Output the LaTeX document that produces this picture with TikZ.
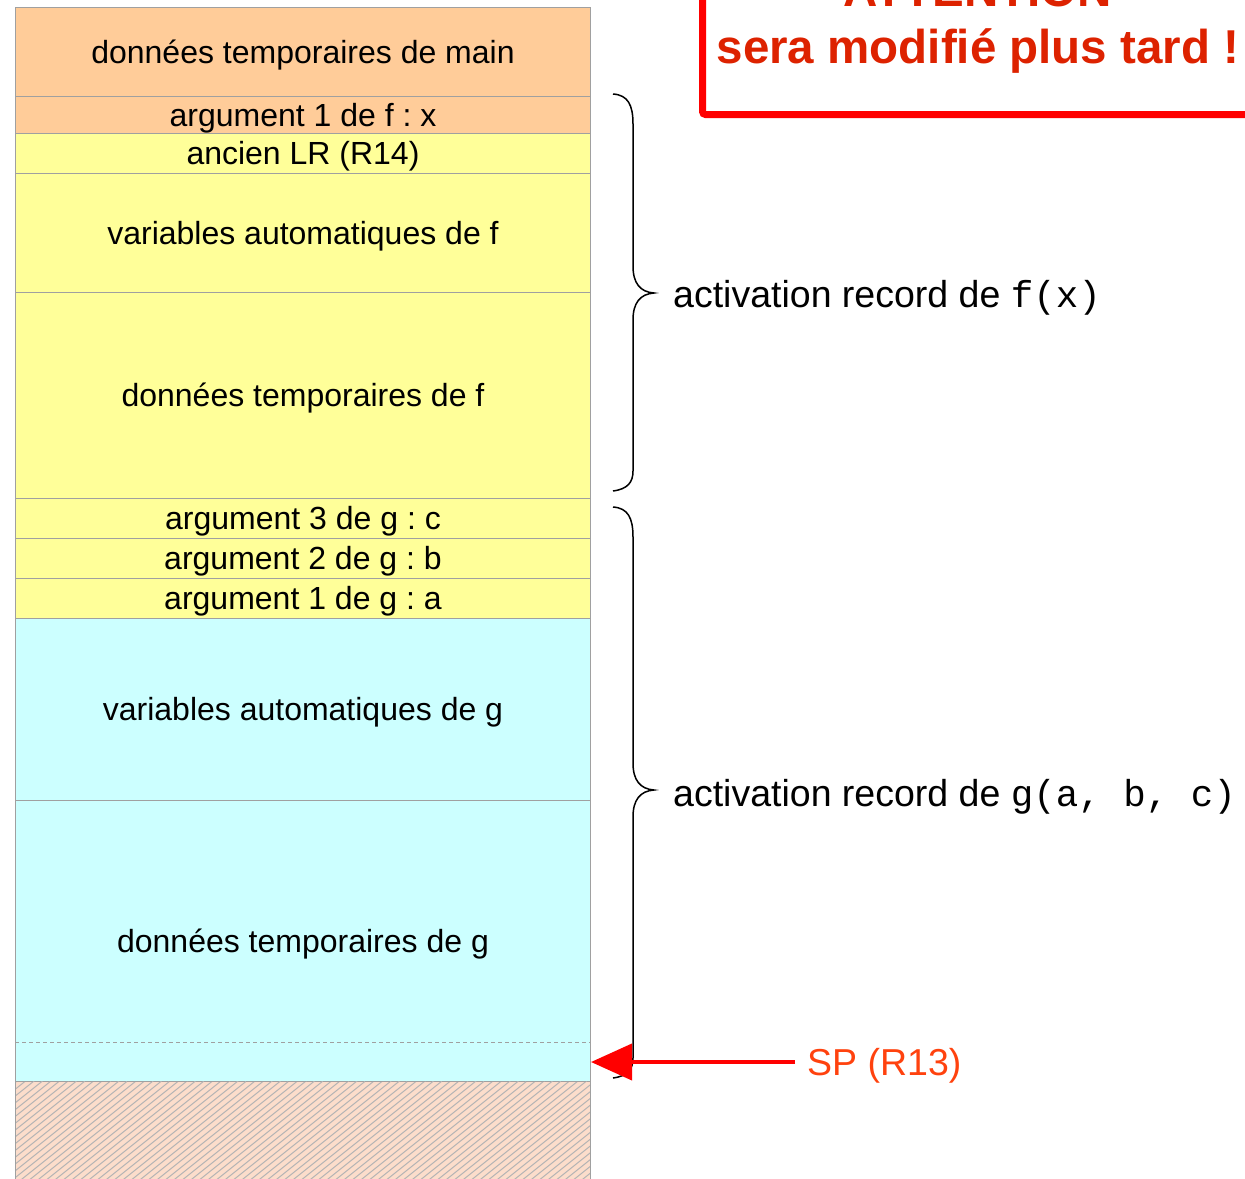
\documentclass[tikz,border=0pt]{standalone}
\usepackage{fontspec}
\setmainfont{Liberation Sans}
\setmonofont{Liberation Mono}
\usetikzlibrary{arrows.meta}

\definecolor{mainorange}{HTML}{FFCC99}
\definecolor{frameyellow}{HTML}{FFFF99}
\definecolor{framecyan}{HTML}{CCFFFF}
\definecolor{freezone}{HTML}{FCDDCB}
\definecolor{cellgray}{HTML}{A0A0A0}
\definecolor{hatchgray}{HTML}{B4B4B4}
\definecolor{warnred}{HTML}{DD2200}
\definecolor{spred}{HTML}{FF420E}

\begin{document}
\frenchspacing
\begin{tikzpicture}[x=1bp,y=-1bp,
  cell/.style={draw=cellgray, line width=1bp, minimum width=575bp,
    inner sep=0pt, anchor=north west, align=center,
    text height=29bp, text depth=6.8bp,
    font=\fontsize{32bp}{38bp}\selectfont},
  bracepath/.style={draw=black, line width=1.5bp},
  sidelabel/.style={anchor=base west, inner sep=0pt,
    font=\fontsize{37.5bp}{45bp}\selectfont},
  warnbox/.style={draw=red, line width=7bp, rounded corners=3bp},
  warntext/.style={anchor=base, inner sep=0pt, text=warnred,
    font=\fontsize{47.5bp}{57bp}\selectfont\bfseries},
]
\useasboundingbox (0,0) rectangle (1245,1179);

% stack cells, from the top of the stack downwards
\node[cell, fill=mainorange, minimum height=89bp]  (main)  at (15,7)    {données temporaires de main};
\node[cell, fill=mainorange, minimum height=37bp]  (argf)  at (15,96)   {argument 1 de f : x};
\node[cell, fill=frameyellow, minimum height=40bp] (oldlr) at (15,133)  {ancien LR (R14)};
\node[cell, fill=frameyellow, minimum height=119bp](autof) at (15,173)  {variables automatiques de f};
\node[cell, fill=frameyellow, minimum height=206bp](tempf) at (15,292)  {données temporaires de f};
\node[cell, fill=frameyellow, minimum height=40bp] (argc)  at (15,498)  {argument 3 de g : c};
\node[cell, fill=frameyellow, minimum height=40bp] (argb)  at (15,538)  {argument 2 de g : b};
\node[cell, fill=frameyellow, minimum height=40bp] (arga)  at (15,578)  {argument 1 de g : a};
\node[cell, fill=framecyan, minimum height=182bp]  (autog) at (15,618)  {variables automatiques de g};
\node[cell, fill=framecyan, minimum height=281bp]  (tempg) at (15,800)  {données temporaires de g};

% unused area below the stack pointer
\node[cell, fill=freezone, minimum height=110bp] (free) at (15,1081) {};
\begin{scope}
  \clip (15,1081) rectangle (590,1179);
  \foreach \x in {-130,-121.5,...,600}
    \draw[hatchgray, line width=1bp] (\x,1185) -- ++(140,-112);
\end{scope}
\draw[cellgray, line width=1bp] (15,1081) -- (15,1179) (590,1081) -- (590,1179);
\draw[cellgray, line width=1bp, dash pattern=on 4bp off 3bp] (15,1081) -- (590,1081);
\draw[cellgray, line width=1bp, dash pattern=on 4bp off 3bp] (15,1042) -- (590,1042);
\coordinate (sp) at (591,1062);

% braces grouping the activation records
\draw[bracepath] (613,94) .. controls (628,95) and (633,105) .. (633,124)
  -- (633,266) .. controls (633,283) and (640,292) .. (654,293)
  .. controls (640,294) and (633,303) .. (633,320)
  -- (633,471) .. controls (633,482) and (628,489) .. (613,491);
\draw[bracepath] (613,507) .. controls (628,508) and (633,518) .. (633,537)
  -- (633,763) .. controls (633,780) and (640,789) .. (654,790)
  .. controls (640,791) and (633,800) .. (633,817)
  -- (633,1058) .. controls (633,1069) and (628,1076) .. (613,1078);

\node[sidelabel] (recf) at (673,307) {activation record de \texttt{f(x)}};
\node[sidelabel] (recg) at (673,806) {activation record de \texttt{g(a, b, c)}};

% stack pointer
\node[sidelabel, text=spred] (splabel) at (807,1075) {SP (R13)};
\draw[red, line width=4bp, -{Triangle[length=41bp, width=36bp]}]
  (splabel.west |- sp) ++(-12,0) -- (sp);

% warning frame
\draw[warnbox] (702.5,-30) |- (1270,114.5);
\node[warntext] (warn1) at (978,6)  {ATTENTION};
\node[warntext] (warn2) at (978,63) {sera modifié plus tard !};
\end{tikzpicture}
\end{document}
